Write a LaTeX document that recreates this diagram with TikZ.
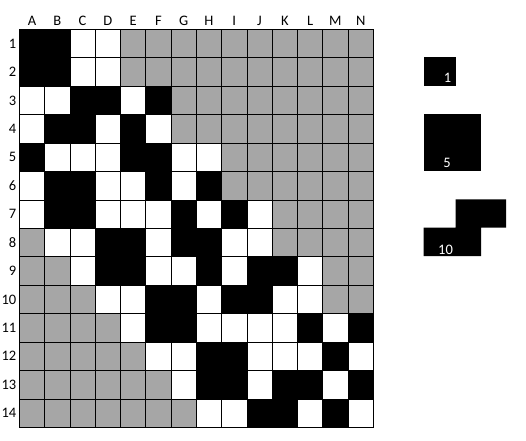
\documentclass[tikz,border=0pt]{standalone}
\usepackage{fontspec}
\setmainfont{Carlito}
\definecolor{cellgray}{HTML}{A6A6A6}
\begin{document}
\begin{tikzpicture}[x=1pt,y=-1pt,
cellk/.style={fill=black},
cellw/.style={fill=white},
cellg/.style={fill=cellgray},
gridline/.style={black,line width=0.6pt},
lbl/.style={inner sep=0pt,font=\fontsize{14.5}{17}\selectfont},
piece/.style={fill=black},
piecelbl/.style={lbl,text=white}]

\useasboundingbox (0,0) rectangle (526,440);

\begin{scope}[shift={(19.3,29.3)},x=25.29pt,y=-28.43pt]
\foreach \row [count=\r from 0] in {
{k,k,w,w,g,g,g,g,g,g,g,g,g,g},
{k,k,w,w,g,g,g,g,g,g,g,g,g,g},
{w,w,k,k,w,k,g,g,g,g,g,g,g,g},
{w,k,k,w,k,w,g,g,g,g,g,g,g,g},
{k,w,w,w,k,k,w,w,g,g,g,g,g,g},
{w,k,k,w,w,k,w,k,g,g,g,g,g,g},
{w,k,k,w,w,w,k,w,k,w,g,g,g,g},
{g,w,w,k,k,w,k,k,w,w,g,g,g,g},
{g,g,w,k,k,w,w,k,w,k,k,w,g,g},
{g,g,g,w,w,k,k,w,k,k,w,w,g,g},
{g,g,g,g,w,k,k,w,w,w,w,k,w,k},
{g,g,g,g,g,w,w,k,k,w,w,w,k,w},
{g,g,g,g,g,g,w,k,k,w,k,k,w,k},
{g,g,g,g,g,g,g,w,w,k,k,w,k,w}} {
  \foreach \c [count=\i from 0] in \row
    \fill[cell\c] (\i,\r) rectangle ++(1,1);
}
\foreach \i in {1,...,13} {
  \draw[gridline] (\i,0) -- (\i,14);
  \draw[gridline] (0,\i) -- (14,\i);
}
\draw[black,line width=0.8pt] (0,0) rectangle (14,14);

% column and row headings
\foreach \l [count=\i from 0] in {A,...,N}
  \node[lbl] (col\l) at (\i+0.5,-0.31) {\l};
\foreach \r in {1,...,14}
  \node[lbl,anchor=east] (row\r) at (-0.11,\r-0.5) {\r};
\end{scope}

% pieces
\fill[piece] (423.7,57.3) rectangle (455.7,85.7);
\node[piecelbl] (lblone) at (447.5,77.5) {1};

\fill[piece] (423.7,114.3) rectangle (480.7,171);
\node[piecelbl] (lblfive) at (447,162.5) {5};

\fill[piece] (455.7,199.3) -- (506,199.3) -- (506,227.7) -- (481,227.7)
  -- (481,256) -- (423.7,256) -- (423.7,227.7) -- (455.7,227.7) -- cycle;
\node[piecelbl] (lblten) at (445.5,249.5) {10};

\end{tikzpicture}
\end{document}
